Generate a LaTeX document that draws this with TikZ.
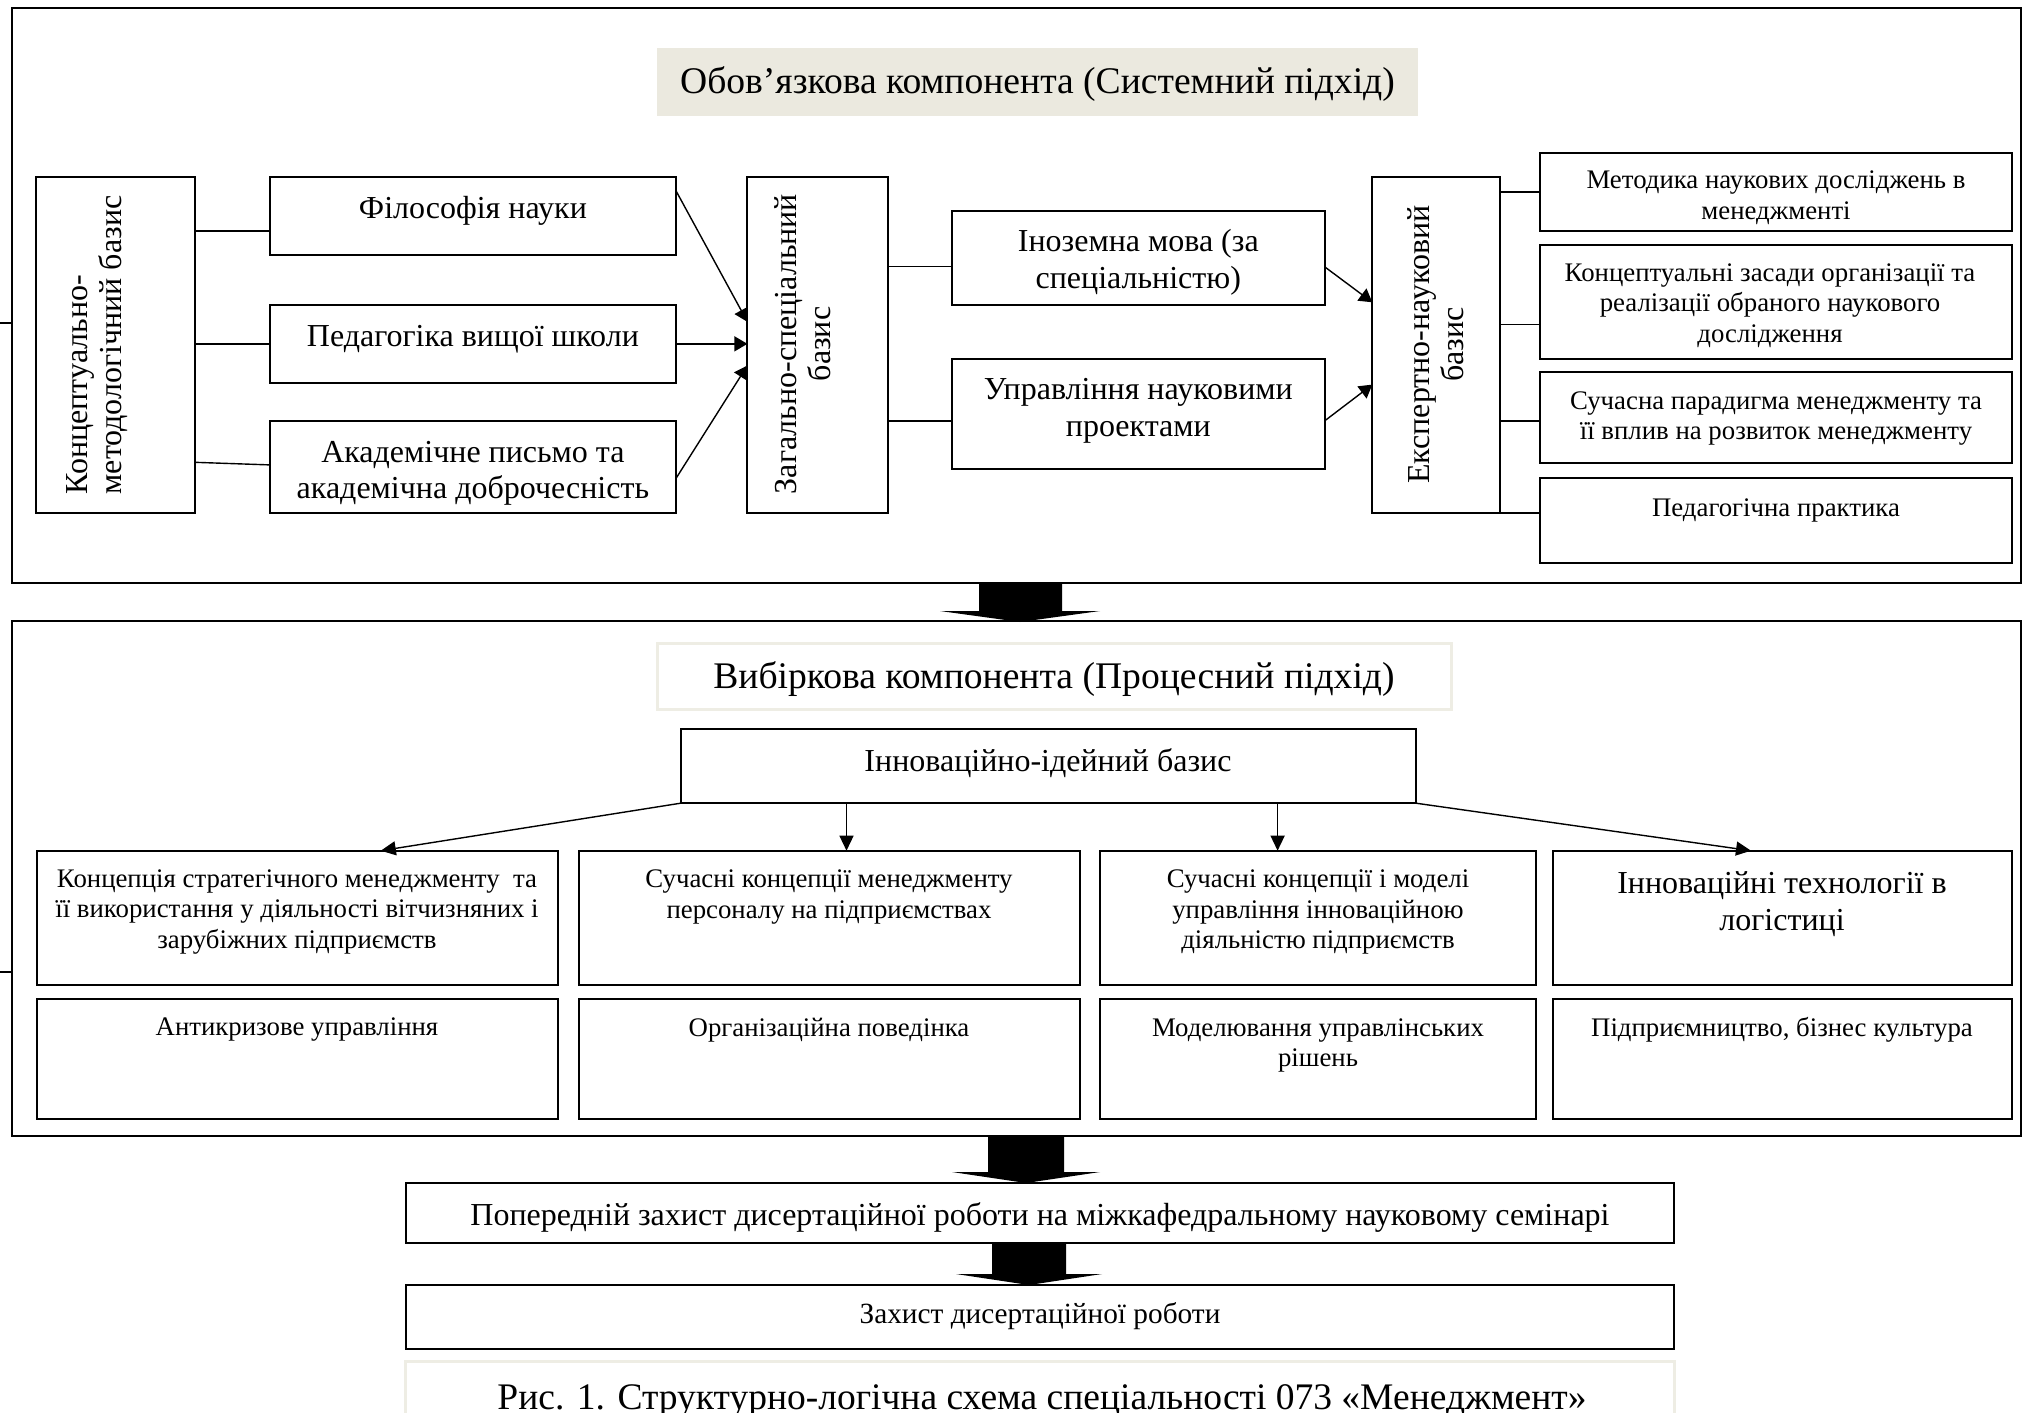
\documentclass[tikz,border=0pt]{standalone}
\usepackage{fontspec}
\setmainfont{Liberation Serif}
\usetikzlibrary{arrows.meta,calc}
\definecolor{titlefill}{HTML}{EBE9DF}
\definecolor{titleline}{HTML}{EEEDE4}
\newcommand\fsz[2]{\fontsize{#1}{#2}\selectfont}
\newcommand\mkbox[6][box]{\node[#1, anchor=north west, minimum width={#5pt-#3pt}, minimum height={#6pt-#4pt}] (#2) at (#3,#4) {};}
\tikzset{
  frame/.style={draw, line width=2.2pt, inner sep=0pt, outer sep=0pt},
  box/.style={draw, line width=2pt, inner sep=0pt, outer sep=0pt, fill=white},
  tbox/.style={fill=titlefill, inner sep=0pt, outer sep=0pt},
  tbox2/.style={draw=titleline, line width=3pt, fill=white, inner sep=0pt, outer sep=0pt},
  txt/.style={inner sep=0pt, outer sep=0pt, align=center},
  big/.style={txt, font=\fsz{32}{36.5}},
  rot/.style={txt, font=\fsz{32}{34}, rotate=90},
  small/.style={txt, font=\fsz{26.8}{30.5}},
  ttl/.style={txt, font=\fsz{37.6}{42}},
  conn/.style={line width=1.4pt},
  stub/.style={line width=2pt},
  arr/.style={line width=1.4pt, -{Triangle[length=13pt,width=15pt]}},
  arrb/.style={line width=1.4pt, -{Triangle[length=15pt,width=14pt]}},
  bigarr/.style={fill=black},
}
\begin{document}
\begin{tikzpicture}[x=1pt,y=-1pt]
\useasboundingbox (0,0) rectangle (2024,1413);
\clip (0,0) rectangle (2024,1413);
% frames
\mkbox[frame]{f1}{11.7}{8.4}{2021}{583}
\mkbox[frame]{f2}{11.7}{621}{2021}{1136}
\coordinate (s1) at (0,323.3);
\coordinate (s2) at (0,971.8);
\draw[stub] (s1) -- (s1 -| f1.west);
\draw[stub] (s2) -- (s2 -| f2.west);
% ===== frame 1 =====
\mkbox[tbox]{t1}{657}{48}{1418}{116}
\node[ttl] (t1t) at (1037.5,84.5) {Обов’язкова компонента (Системний підхід)};
\mkbox{lb}{35.7}{176.8}{194.5}{512.8}
\mkbox{fil}{269.8}{176.8}{676}{254.9}
\mkbox{ped}{269.8}{305}{676}{382.7}
\mkbox{akad}{269.8}{421}{676}{512.8}
\mkbox{zag}{747.4}{176.8}{888.4}{512.8}
\mkbox{ino}{952}{210.5}{1324.6}{305}
\mkbox{upr}{952}{359}{1324.6}{468.8}
\mkbox{eksp}{1372.3}{176.8}{1500.3}{512.8}
\mkbox{met}{1539.5}{152.7}{2012.4}{231.2}
\mkbox{kon}{1539.5}{244.9}{2012.4}{359}
\mkbox{suc}{1539.5}{372.4}{2012.4}{463.1}
\mkbox{pp}{1539.5}{478.4}{2012.4}{563.3}
\node[rot, align=left] (lbt) at (97,345) {Концептуально-\\методологічний базис};
\node[big] (filt) at (472.9,210.5) {Філософія науки};
\node[big] (pedt) at (472.9,339.5) {Педагогіка вищої школи};
\node[big] (akadt) at (472.9,473.5) {Академічне письмо та\\академічна доброчесність};
\node[rot] (zagt) at (803,344) {Загально-спеціальний\\базис};
\node[big] (inot) at (1138.3,262.5) {Іноземна мова (за\\спеціальністю)};
\node[big] (uprt) at (1138.3,411) {Управління науковими\\проектами};
\node[rot] (ekspt) at (1436,344.6) {Експертно-науковий\\базис};
\node[small] (mett) at (1776,197.5) {Методика наукових досліджень в\\менеджменті};
\node[small] (kont) at (1770,305.5) {Концептуальні засади організації та\\реалізації обраного наукового\\дослідження};
\node[small] (suct) at (1776,418.5) {Сучасна парадигма менеджменту та\\її вплив на розвиток менеджменту};
\node[small] (ppt) at (1776,510) {Педагогічна практика};
% connectors frame 1
\draw[conn] ([yshift=-15pt]fil.west -| lb.east) -- ([yshift=-15pt]fil.west);
\draw[conn] (lb.east |- ped.west) -- (ped.west);
\draw[conn] ([yshift=4.6pt]akad.west -| lb.east) -- ([yshift=2pt]akad.west);
\draw[arr] ([yshift=-14pt]fil.north east) -- ([yshift=23pt]zag.west);
\draw[arr] (ped.east) -- (zag.west |- ped.east);
\draw[arr] ([yshift=-11.5pt]akad.east) -- ([yshift=-20.7pt]zag.west);
\draw[conn] ([yshift=-9pt]ino.west -| zag.east) -- ([yshift=-9pt]ino.west);
\draw[conn] ([yshift=-7pt]upr.west -| zag.east) -- ([yshift=-7pt]upr.west);
\draw[arr] ([yshift=-9pt]ino.east) -- ([yshift=42.5pt]eksp.west);
\draw[arr] ([yshift=-7pt]upr.east) -- ([yshift=-39.8pt]eksp.west);
\draw[conn] (met.west -| eksp.east) -- (met.west);
\draw[conn] ([yshift=-22.5pt]kon.west -| eksp.east) -- ([yshift=-22.5pt]kon.west);
\draw[conn] ([yshift=-3.3pt]suc.west -| eksp.east) -- ([yshift=-3.3pt]suc.west);
\draw[conn] (eksp.south east) -- (eksp.south east -| pp.west);
% ===== frame 2 =====
\mkbox[tbox2]{t2}{657}{643}{1451}{709}
\node[ttl] (t2t) at (1054,678.9) {Вибіркова компонента (Процесний підхід)};
\mkbox{inn}{680.6}{728.6}{1416}{803.2}
\node[big] (innt) at (1048,762.8) {Інноваційно-ідейний базис};
\mkbox{ba}{36.6}{850.7}{557.8}{984.6}
\mkbox{bb}{578.7}{850.7}{1079.7}{984.6}
\mkbox{bc}{1100}{850.7}{1536}{984.6}
\mkbox{bd}{1552.6}{850.7}{2012.4}{984.6}
\mkbox{ca}{36.6}{998.6}{557.8}{1118.6}
\mkbox{cb}{578.7}{998.6}{1079.7}{1118.6}
\mkbox{cc}{1100}{998.6}{1536}{1118.6}
\mkbox{cd}{1552.6}{998.6}{2012.4}{1118.6}
\node[small] (bat) at (297,912) {Концепція стратегічного менеджменту~~та\\її використання у діяльності вітчизняних і\\зарубіжних підприємств};
\node[small] (bbt) at (829,897) {Сучасні концепції менеджменту\\персоналу на підприємствах};
\node[small] (bct) at (1318,912) {Сучасні концепції і моделі\\управління інноваційною\\діяльністю підприємств};
\node[big] (bdt) at (1782,904) {Інноваційні технології в\\логістиці};
\node[small] (cat) at (297,1030) {Антикризове управління};
\node[small] (cbt) at (829,1030) {Організаційна поведінка};
\node[small] (cct) at (1318,1045.5) {Моделювання управлінських\\рішень};
\node[small] (cdt) at (1782,1030) {Підприємництво, бізнес культура};
\draw[arrb] (inn.south west) -- ([xshift=83.6pt]ba.north);
\draw[arrb] ([xshift=17.3pt]bb.north |- inn.south) -- ([xshift=17.3pt]bb.north);
\draw[arrb] ([xshift=-40.4pt]bc.north |- inn.south) -- ([xshift=-40.4pt]bc.north);
\draw[arrb] (inn.south east) -- ([xshift=-31.5pt]bd.north);
% ===== bottom =====
\mkbox{pop}{406.4}{1182.7}{1673.8}{1243}
\mkbox{zah}{406.4}{1285}{1673.8}{1349.3}
\node[txt, font=\fsz{32}{36}] (popt) at (1040,1217) {Попередній захист дисертаційної роботи на міжкафедральному науковому семінарі};
\node[txt, font=\fsz{29.3}{33}] (zaht) at (1040,1316.5) {Захист дисертаційної роботи};
\mkbox[tbox2]{cap}{405}{1361}{1674}{1450}
\node[txt, font=\fsz{37.5}{42}, anchor=base] (capt) at (1042,1409) {Рис. 1. Структурно-логічна схема спеціальності 073 «Менеджмент»};
% big arrows
\fill[bigarr] (979,583) -- (1062,583) -- (1062,611) -- (1100,611) -- (1020,622) -- (940,611) -- (979,611) -- cycle;
\fill[bigarr] (988,1136) -- (1064,1136) -- (1064,1172) -- (1100,1172) -- (1026,1183) -- (952,1172) -- (988,1172) -- cycle;
\fill[bigarr] (992,1243) -- (1066,1243) -- (1066,1274) -- (1102,1274) -- (1029,1285) -- (956,1274) -- (992,1274) -- cycle;
\end{tikzpicture}
\end{document}
